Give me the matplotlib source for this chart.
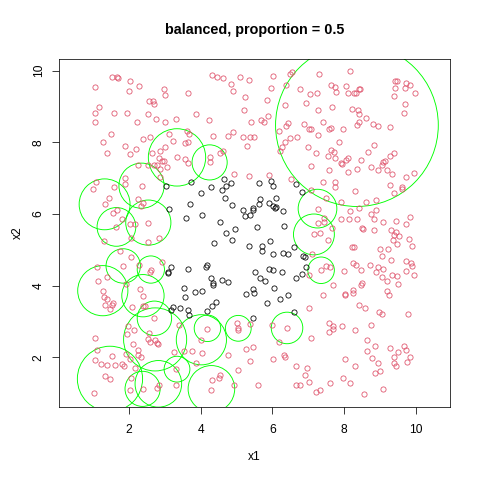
import matplotlib
matplotlib.use("Agg")
import matplotlib.pyplot as plt
from matplotlib.patches import Circle

plt.rcParams['font.family'] = ['Liberation Sans', 'DejaVu Sans']

# class 1 points (red)
red_x = [
    1.54, 1.68, 1.69, 2.02, 1.05, 2.29, 1.99, 2.98, 3.01, 3.64,
    2.55, 2.66, 2.71, 1.16, 1.06, 1.58, 1.95, 2.54, 1.05, 2.23,
    2.76, 3.00, 3.30, 1.51, 1.27, 2.39, 2.60, 3.12, 3.23, 3.63,
    3.67, 3.56, 3.64, 1.89, 2.19, 2.02, 1.40, 2.65, 2.86, 3.00,
    3.34, 3.55, 3.66, 2.84, 2.93, 2.99, 2.77, 2.71, 3.07, 2.86,
    2.26, 2.52, 1.88, 2.87,
    4.32, 4.45, 4.62, 5.09, 5.35, 4.84, 4.89, 6.03, 6.50, 6.54,
    7.30, 6.38, 5.96, 6.76, 7.05, 7.25, 5.24, 5.85, 6.94, 6.35,
    7.26, 5.21, 3.88, 4.23, 5.87, 5.67, 5.78, 5.40, 6.44, 6.37,
    6.89, 7.02, 7.07, 7.27, 6.19, 4.91, 4.75, 5.17, 5.37, 5.49,
    4.34, 6.50, 6.69, 6.35, 6.28, 6.20, 6.99, 7.23, 5.30, 4.62,
    4.54, 4.27, 4.26, 7.09, 4.94, 5.35, 5.90,
    8.16, 7.63, 7.75, 7.77, 8.05, 8.12, 8.27, 8.33, 8.41, 8.45,
    9.43, 9.49, 9.42, 9.73, 9.85, 9.71, 9.98, 9.40, 9.69, 9.68,
    7.66, 8.22, 8.40, 8.42, 8.62, 7.41, 8.41, 8.36, 8.80, 8.94,
    9.29, 7.59, 7.64, 7.98, 7.86, 8.84, 7.64, 7.72, 7.55, 7.75,
    8.68, 9.40, 9.28, 8.12, 8.05, 8.46, 7.92, 7.95, 9.15, 9.08,
    9.07, 8.75, 8.94, 9.19, 9.35, 8.36, 7.58, 8.10, 9.94, 9.72,
    1.08, 1.01, 1.89, 1.58, 2.35, 1.45, 2.26, 1.32, 2.39, 2.33,
    1.68, 1.55, 1.80, 2.54, 2.04, 2.18, 1.65, 2.07, 2.83, 1.29,
    2.54, 1.74, 2.07, 2.92, 2.29, 1.84, 1.10, 2.61, 2.59, 1.40,
    1.13, 1.91, 2.30, 1.27,
    6.53, 7.07, 7.26, 7.26, 7.16, 7.11, 7.01,
    7.42, 7.75, 7.74, 8.30, 9.29, 9.61, 9.63, 9.40, 7.50, 7.91,
    8.61, 8.90, 8.41, 8.18, 8.90, 8.74, 7.44, 7.92, 8.13, 8.36,
    8.84, 9.08, 9.46, 9.84, 9.74, 7.45, 7.67, 7.34, 7.55, 8.50,
    8.52, 8.83, 9.30, 9.45, 9.40, 9.54, 9.36, 9.48, 9.82, 9.89,
    8.23, 8.28, 9.00, 9.22, 9.06, 9.31, 9.73, 9.86, 9.90, 8.24,
    8.34, 8.72, 8.94, 9.10, 8.88, 8.47, 8.01, 7.50, 7.62, 7.36,
    9.34, 9.47, 9.07, 9.94, 9.73, 9.50, 9.19, 8.49, 8.46, 7.70,
    8.25, 9.19, 7.42, 8.04, 8.03, 8.25, 9.26,
    1.29, 1.38, 1.55, 1.53, 1.34, 1.47, 2.39, 2.08, 2.38, 2.45,
    2.71, 3.40, 1.97, 2.15, 1.94, 2.56, 2.53, 2.59, 2.72, 2.79,
    2.82, 1.05, 2.11, 2.26, 2.25, 2.34, 1.12, 1.91, 1.52, 1.04,
    1.22, 1.38, 1.61, 1.80, 1.86, 2.03, 2.18, 1.33, 1.47, 2.07,
    2.38, 2.03, 1.03, 2.79, 2.83, 3.26, 3.32, 3.32, 3.54,
    7.03, 4.18, 5.01, 5.04, 5.05, 5.37, 6.00, 6.41, 6.18, 7.07,
    4.01, 3.77, 4.05, 4.76, 5.27, 5.46, 5.38, 6.02, 6.32, 6.36,
    3.88, 6.65, 6.96, 6.92, 7.01, 6.65, 6.76, 7.21, 7.32, 5.05,
    4.53, 4.51, 4.33, 4.28, 4.92, 5.61,
    8.43, 8.59, 8.97, 9.05, 9.78, 7.57, 7.69, 7.70, 7.58, 7.93,
    8.30, 8.75, 8.64, 8.87, 8.64, 9.29, 9.67, 9.72, 9.50, 9.39,
    9.84, 9.76, 9.39, 9.45, 8.77, 8.96, 8.99, 8.87, 8.02, 8.32,
    7.98, 8.16, 7.60, 9.09, 8.55,
]
red_y = [
    9.82, 9.82, 9.79, 9.72, 9.54, 9.58, 9.44, 9.49, 9.32, 9.37,
    9.16, 9.14, 9.06, 8.99, 8.81, 8.83, 8.83, 8.80, 8.58, 8.58,
    8.64, 8.57, 8.65, 8.23, 8.01, 8.08, 8.16, 8.22, 8.05, 8.33,
    8.24, 7.98, 8.01, 7.89, 7.82, 7.67, 7.71, 7.70, 7.77, 7.86,
    7.58, 7.54, 7.41, 7.55, 7.49, 7.48, 7.36, 7.36, 7.32, 7.26,
    7.38, 7.37, 7.01, 7.04,
    9.89, 9.83, 9.80, 9.83, 9.74, 9.63, 9.42, 9.86, 9.92, 9.96,
    9.92, 9.61, 9.51, 9.48, 9.36, 9.39, 9.27, 9.19, 9.11, 9.03,
    8.89, 8.89, 8.79, 8.63, 8.74, 8.62, 8.58, 8.56, 8.53, 8.45,
    8.52, 8.38, 8.37, 8.20, 8.33, 8.28, 8.18, 8.16, 8.16, 8.16,
    8.18, 8.13, 8.16, 8.02, 7.88, 7.75, 7.88, 7.71, 7.90, 7.77,
    7.71, 7.58, 7.44, 7.33, 7.13, 7.05, 7.10,
    9.98, 9.59, 9.54, 9.40, 9.56, 9.37, 9.37, 9.37, 9.50, 9.50,
    9.70, 9.70, 9.53, 9.65, 9.60, 9.52, 9.37, 9.29, 9.07, 8.81,
    8.98, 8.93, 8.89, 8.80, 8.69, 8.56, 8.56, 8.48, 8.52, 8.47,
    8.42, 8.38, 8.39, 8.36, 8.02, 7.93, 7.79, 7.74, 7.63, 7.55,
    7.73, 7.69, 7.63, 7.55, 7.50, 7.50, 7.43, 7.40, 7.49, 7.45,
    7.36, 7.31, 7.24, 7.24, 7.12, 7.27, 7.24, 7.17, 7.14, 7.02,
    6.88, 6.71, 6.83, 6.76, 6.78, 6.45, 6.43, 6.27, 6.30, 6.21,
    6.12, 6.04, 5.85, 5.76, 5.72, 5.71, 5.64, 5.34, 5.32, 5.24,
    5.21, 4.97, 4.81, 4.66, 4.57, 4.55, 4.51, 4.45, 4.38, 4.23,
    4.14, 4.06, 3.92, 3.86,
    6.99, 6.67, 6.15, 5.76, 5.43, 4.89, 4.29,
    6.90, 6.90, 6.75, 6.63, 6.80, 6.74, 6.70, 6.60, 6.45, 6.34,
    6.34, 6.39, 6.18, 6.09, 6.12, 6.00, 5.90, 5.87, 5.85, 5.85,
    5.85, 5.79, 5.81, 5.91, 5.73, 5.79, 5.60, 5.48, 5.28, 5.60,
    5.57, 5.54, 5.54, 5.50, 5.41, 5.38, 5.28, 5.17, 5.30, 5.12,
    5.07, 5.08, 5.02, 5.02, 4.83, 4.73, 4.69, 4.63, 4.56, 4.63,
    4.59, 4.59, 4.53, 4.46, 4.38, 4.44, 4.41, 4.55, 4.53, 4.43,
    4.30, 4.26, 4.24, 4.30, 4.41, 4.04, 4.12, 4.07, 4.01, 4.01,
    3.88, 3.86, 3.74, 3.76, 3.73, 3.80, 3.75,
    3.68, 3.63, 3.52, 3.45, 3.47, 3.35, 3.71, 3.40, 3.42, 3.42,
    3.09, 2.91, 2.87, 2.76, 2.64, 2.67, 2.51, 2.42, 2.48, 2.40,
    2.37, 2.53, 2.36, 2.21, 2.06, 2.02, 2.21, 2.09, 2.04, 1.93,
    1.82, 1.79, 1.78, 1.81, 1.76, 1.94, 1.71, 1.48, 1.39, 1.41,
    1.12, 1.08, 1.01, 1.14, 1.24, 2.14, 1.67, 1.23, 2.17,
    3.39, 2.80, 2.96, 2.81, 2.77, 2.94, 2.91, 2.82, 2.44, 2.53,
    2.48, 2.17, 2.11, 2.07, 2.22, 2.28, 1.91, 1.95, 2.07, 2.02,
    1.85, 1.76, 1.69, 1.52, 1.30, 1.24, 1.24, 1.04, 1.08, 1.66,
    1.52, 1.41, 1.38, 1.10, 1.23, 1.24,
    3.45, 3.38, 3.26, 3.20, 3.21, 2.95, 2.88, 2.80, 2.72, 2.87,
    2.76, 2.90, 2.48, 2.32, 2.19, 2.26, 2.32, 2.21, 2.14, 2.00,
    2.00, 1.88, 1.83, 1.75, 1.99, 1.83, 1.61, 1.55, 1.94, 1.77,
    1.41, 1.28, 1.28, 1.12, 0.98,
]

# class 0 points (black)
black_x = [
    3.03, 3.74, 3.11, 3.70, 3.60, 3.17, 3.10, 3.09, 3.65, 3.54,
    4.65, 4.01, 4.28, 4.60, 4.72, 4.86, 5.63, 5.96, 6.02, 4.67,
    5.66, 6.11, 4.87, 5.63, 5.92, 6.03, 6.08, 6.10, 6.29, 5.47,
    5.45, 5.19, 5.25, 5.39, 4.05, 4.53, 4.95, 4.71, 5.56, 6.32,
    4.87, 4.38, 5.35, 5.94, 5.72, 5.72, 6.01, 6.30, 6.45, 6.60,
    6.85, 6.90, 6.93, 6.84, 6.65, 4.19, 4.14, 4.29, 4.34, 4.35,
    4.59, 4.75, 5.51, 5.90, 6.03, 6.28, 5.66, 5.79, 5.47, 6.04,
    4.04, 6.66, 6.84, 3.57, 3.23, 3.42, 3.17, 3.65, 3.68, 3.84,
    5.27, 5.50, 6.22, 6.44, 5.86, 4.44, 4.31, 4.19, 5.47, 6.61,
]
black_y = [
    6.77, 6.88, 6.14, 6.28, 5.90, 4.52, 4.39, 4.34, 4.47, 3.94,
    6.98, 6.60, 6.74, 6.66, 6.79, 6.86, 6.86, 6.92, 6.77, 6.45,
    6.43, 6.45, 6.26, 6.28, 6.30, 6.23, 6.17, 6.20, 6.09, 6.18,
    6.10, 6.12, 5.95, 5.98, 5.98, 5.79, 5.58, 5.47, 5.65, 5.67,
    5.28, 5.19, 5.11, 5.24, 5.10, 4.97, 4.87, 4.92, 4.88, 5.09,
    4.83, 4.80, 4.53, 4.32, 4.21, 4.59, 4.52, 4.22, 4.08, 4.01,
    4.16, 4.11, 4.39, 4.47, 4.43, 4.37, 4.22, 4.14, 3.92, 3.93,
    3.86, 6.84, 6.62, 3.67, 3.41, 3.38, 3.31, 3.31, 3.17, 3.82,
    3.77, 3.80, 3.63, 3.74, 3.52, 3.55, 3.43, 3.28, 3.09, 3.26,
]

# circles around selected class 1 points
circle_x = [8.36, 3.34, 2.35, 4.25, 1.32, 1.65, 2.54, 1.84, 2.61, 1.27,
            2.39, 7.26, 7.16, 7.36, 2.73, 2.71, 1.47, 2.38, 2.82, 3.34,
            4.19, 4.02, 5.05, 6.41, 4.30]
circle_y = [8.48, 7.58, 6.79, 7.44, 6.27, 5.64, 5.76, 4.55, 4.45, 3.86,
            3.72, 6.15, 5.43, 4.43, 2.50, 3.09, 1.40, 1.12, 1.26, 1.67,
            2.81, 2.49, 2.81, 2.82, 1.12]
circle_r = [2.27, 0.80, 0.63, 0.49, 0.71, 0.54, 0.63, 0.48, 0.38, 0.70,
            0.59, 0.54, 0.57, 0.37, 0.88, 0.48, 0.91, 0.49, 0.65, 0.36,
            0.37, 0.70, 0.36, 0.44, 0.65]

ticks = [2, 4, 6, 8, 10]

fig = plt.figure(figsize=(480 / 72, 480 / 72), dpi=72)
ax = fig.add_axes([59.04 / 480, 73.44 / 480, 390.72 / 480, 347.52 / 480])

ax.plot(black_x, black_y, linestyle='none', marker='o', markersize=5.2,
        markerfacecolor='none', markeredgecolor='black', markeredgewidth=0.8)
ax.plot(red_x, red_y, linestyle='none', marker='o', markersize=5.2,
        markerfacecolor='none', markeredgecolor='#DF536B', markeredgewidth=0.8)

for cx, cy, r in zip(circle_x, circle_y, circle_r):
    ax.add_patch(Circle((cx, cy), r, fill=False, edgecolor='#00FF00', linewidth=0.9))

ax.set_xlim(0.049, 10.95)
ax.set_ylim(0.626, 10.325)
ax.set_xticks(ticks)
ax.set_yticks(ticks)
ax.set_xticklabels([str(t) for t in ticks])
ax.set_yticklabels([str(t) for t in ticks], rotation=90, va='center')
ax.tick_params(length=7.2, width=0.75, labelsize=12)
ax.tick_params(axis='x', pad=10)
ax.tick_params(axis='y', pad=7)
for s in ax.spines.values():
    s.set_linewidth(0.75)

fig.text(254.4 / 480, 1 - 30 / 480, "balanced, proportion = 0.5",
         ha='center', va='center', fontsize=14.4, fontweight='bold')
fig.text(254.4 / 480, 1 - 457 / 480, "x1", ha='center', va='center', fontsize=12)
fig.text(18 / 480, 1 - 232.8 / 480, "x2", ha='center', va='center',
         fontsize=12, rotation=90)

fig.savefig("out.png", dpi=72)
